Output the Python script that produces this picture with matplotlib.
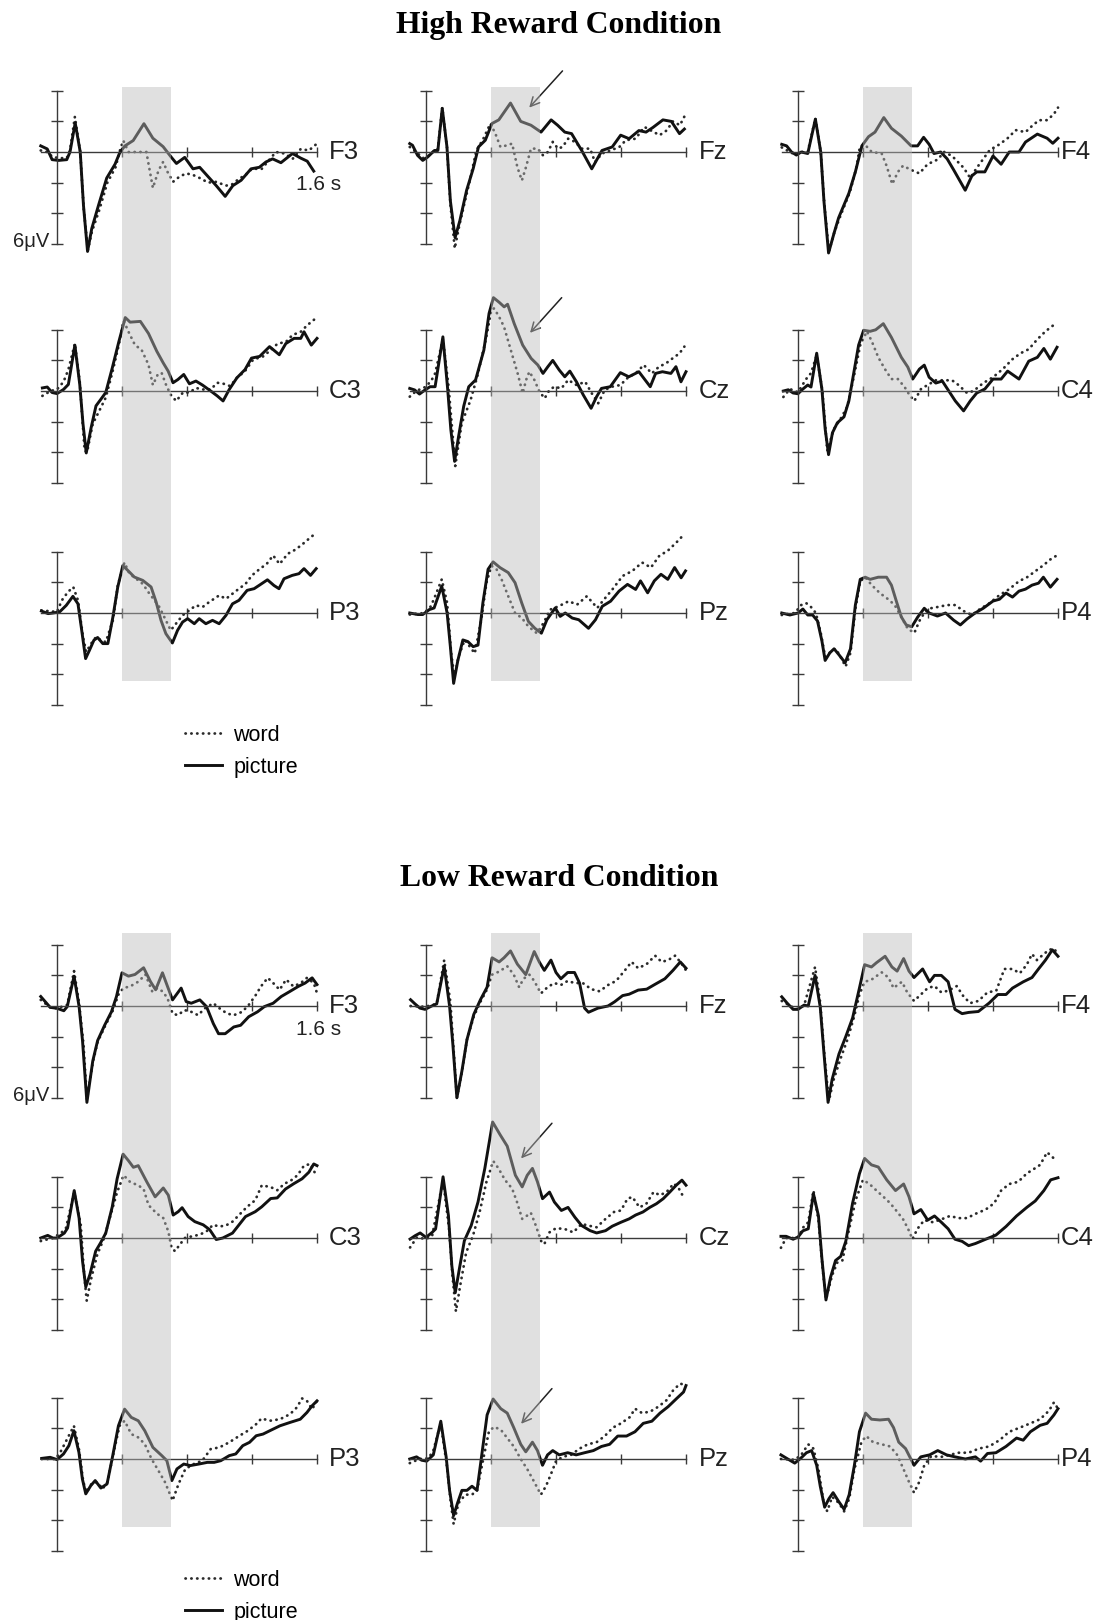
import matplotlib
matplotlib.use('Agg')
import matplotlib.pyplot as plt

plt.rcParams['font.family'] = ['Liberation Sans', 'DejaVu Sans']

W, H, DPI = 1108, 1620, 100

# ---------------- chart constants ----------------
conditions = ['High Reward Condition', 'Low Reward Condition']
channels = [['F3', 'Fz', 'F4'], ['C3', 'Cz', 'C4'], ['P3', 'Pz', 'P4']]
legend_labels = ['word', 'picture']
XTICKS = [0.4, 0.8, 1.2, 1.6]
YTICKS = [-6, -4, -2, 2, 4]
T_START, T_END = -0.1, 1.6
SHADE = (0.4, 0.7)

# ---------------- data: (time s, amplitude uV) ----------------
hi_F3_pic = [(-0.1,0.4),(-0.06,0.2),(-0.03,-0.5),(0.01,-0.55),(0.06,-0.5),(0.08,0.0),(0.112,1.9),(0.143,0.0),(0.163,-3.5),(0.188,-6.5),(0.214,-5.0),(0.255,-3.5),(0.306,-1.7),(0.357,-0.8),(0.388,0.0),(0.418,0.4),(0.469,0.75),(0.535,1.85),(0.59,0.9),(0.653,0.35),(0.704,-0.35),(0.735,-0.75),(0.786,-0.35),(0.837,-1.1),(0.878,-1.0),(0.929,-1.6),(0.98,-2.2),(1.035,-2.9),(1.082,-2.2),(1.133,-1.85),(1.194,-1.1),(1.245,-1.0),(1.286,-0.65),(1.327,-0.45),(1.378,-0.7),(1.449,-0.1),(1.5,-0.4),(1.54,-0.6),(1.58,-1.25)]
hi_F3_word = [(-0.1,0.1),(-0.06,0.0),(-0.03,-0.3),(0.01,-0.4),(0.06,-0.4),(0.08,0.1),(0.11,2.3),(0.143,0.0),(0.165,-3.8),(0.19,-6.4),(0.215,-5.2),(0.26,-3.8),(0.31,-2.0),(0.36,-1.0),(0.39,0.2),(0.408,0.75),(0.44,0.0),(0.5,0.0),(0.55,0.0),(0.59,-2.35),(0.625,-1.2),(0.653,-0.65),(0.68,-1.3),(0.714,-1.95),(0.755,-1.6),(0.796,-1.4),(0.837,-1.5),(0.878,-1.7),(0.93,-2.0),(0.98,-1.95),(1.04,-2.2),(1.08,-2.1),(1.12,-1.75),(1.16,-1.5),(1.2,-1.1),(1.26,-1.1),(1.347,0.0),(1.4,-0.1),(1.45,-0.45),(1.5,0.2),(1.55,0.1),(1.6,0.55)]

hi_Fz_pic = [(-0.1,0.55),(-0.083,0.44),(-0.052,-0.22),(-0.02,-0.55),(0.01,-0.33),(0.052,0.1),(0.073,0.1),(0.1,2.85),(0.129,0.33),(0.15,-3.2),(0.179,-5.6),(0.208,-4.5),(0.25,-2.5),(0.29,-1.1),(0.323,0.33),(0.365,0.77),(0.406,1.86),(0.448,2.1),(0.52,3.2),(0.583,2.0),(0.646,1.75),(0.708,1.3),(0.77,2.1),(0.81,1.75),(0.854,1.3),(0.896,1.2),(0.958,0.1),(1.02,-1.1),(1.083,0.1),(1.146,0.33),(1.198,1.1),(1.25,0.87),(1.31,1.4),(1.354,1.3),(1.396,1.6),(1.458,2.1),(1.51,2.0),(1.56,1.2),(1.59,1.5)]
hi_Fz_word = [(-0.1,0.33),(-0.05,-0.1),(-0.02,-0.4),(0.01,-0.3),(0.052,0.1),(0.073,0.2),(0.1,2.9),(0.129,0.3),(0.15,-3.4),(0.177,-6.3),(0.205,-4.8),(0.24,-3.2),(0.27,-1.85),(0.31,0.1),(0.35,0.8),(0.396,1.86),(0.427,1.2),(0.458,0.33),(0.5,0.44),(0.53,0.55),(0.5625,-1.0),(0.59,-1.86),(0.615,-1.0),(0.646,0.22),(0.6875,0.22),(0.72,-0.22),(0.75,0.0),(0.78,0.66),(0.8125,0.22),(0.84,0.33),(0.875,0.87),(0.917,0.66),(0.958,0.22),(1.01,0.22),(1.04,-0.66),(1.083,-0.1),(1.135,0.1),(1.19,0.33),(1.23,0.77),(1.29,0.87),(1.344,1.64),(1.385,1.4),(1.4375,1.1),(1.48,1.4),(1.52,2.0),(1.5625,1.75),(1.594,2.4)]

hi_F4_pic = [(-0.1,0.5),(-0.07,0.4),(-0.04,0.0),(-0.01,-0.2),(0.02,0.0),(0.06,-0.1),(0.107,2.15),(0.14,0.0),(0.16,-3.25),(0.188,-6.6),(0.222,-5.3),(0.25,-4.3),(0.313,-2.7),(0.353,-1.3),(0.393,0.4),(0.434,1.0),(0.474,1.3),(0.528,2.25),(0.575,1.55),(0.636,1.04),(0.696,0.4),(0.736,0.4),(0.773,0.96),(0.807,0.5),(0.837,-0.1),(0.878,0.0),(0.918,-0.45),(0.958,-1.17),(1.029,-2.5),(1.07,-1.56),(1.1,-1.3),(1.15,-1.3),(1.2,-0.26),(1.25,-0.8),(1.3,0.0),(1.36,0.0),(1.4,0.65),(1.473,1.17),(1.533,0.9),(1.568,0.57),(1.6,0.9)]
hi_F4_word = [(-0.1,0.3),(-0.05,0.0),(-0.01,-0.2),(0.02,0.0),(0.06,0.0),(0.107,2.2),(0.14,0.0),(0.162,-3.4),(0.19,-6.5),(0.225,-5.2),(0.26,-4.2),(0.32,-2.6),(0.36,-1.0),(0.38,0.3),(0.41,0.5),(0.454,0.0),(0.515,-0.1),(0.545,-0.9),(0.58,-2.1),(0.615,-1.3),(0.646,-0.9),(0.696,-1.17),(0.747,-1.4),(0.797,-0.8),(0.858,-0.5),(0.9,0.0),(0.948,-0.26),(1.02,-1.04),(1.06,-1.7),(1.1,-1.04),(1.18,0.13),(1.24,0.5),(1.29,0.9),(1.34,1.43),(1.4,1.3),(1.44,1.7),(1.483,2.08),(1.533,2.08),(1.574,2.47),(1.6,2.9)]

hi_C3_pic = [(-0.09,0.2),(-0.06,0.26),(-0.03,-0.1),(0.0,-0.17),(0.04,0.1),(0.07,0.43),(0.11,3.0),(0.14,0.43),(0.16,-2.15),(0.18,-4.05),(0.21,-2.4),(0.24,-0.97),(0.27,-0.54),(0.3,-0.1),(0.34,1.5),(0.38,3.2),(0.42,4.8),(0.45,4.5),(0.513,4.55),(0.563,3.76),(0.614,2.6),(0.654,1.83),(0.684,1.3),(0.714,0.54),(0.744,0.75),(0.78,1.08),(0.815,0.47),(0.855,0.65),(0.895,0.39),(0.946,0.0),(0.986,-0.32),(1.022,-0.65),(1.06,0.1),(1.107,0.86),(1.157,1.4),(1.197,2.15),(1.247,2.26),(1.308,2.9),(1.368,2.37),(1.408,3.1),(1.459,3.44),(1.5,3.44),(1.52,3.87),(1.565,3.0),(1.6,3.44)]
hi_C3_word = [(-0.09,-0.32),(-0.04,0.0),(0.0,0.1),(0.04,0.6),(0.07,1.4),(0.11,3.1),(0.14,0.6),(0.17,-3.9),(0.185,-4.0),(0.22,-2.15),(0.26,-1.3),(0.3,-0.43),(0.34,1.18),(0.38,3.0),(0.41,4.6),(0.44,3.87),(0.48,3.0),(0.52,2.7),(0.563,1.72),(0.59,0.39),(0.62,1.08),(0.644,1.18),(0.674,0.32),(0.704,-0.32),(0.734,-0.65),(0.775,-0.1),(0.815,-0.1),(0.855,0.2),(0.895,0.1),(0.946,0.1),(0.986,0.54),(1.026,0.47),(1.066,0.32),(1.107,0.86),(1.157,1.3),(1.207,2.05),(1.268,2.26),(1.318,2.7),(1.358,3.1),(1.408,3.2),(1.449,3.66),(1.5,3.87),(1.54,4.3),(1.59,4.73)]

hi_Cz_pic = [(-0.1,0.17),(-0.07,0.07),(-0.04,-0.2),(-0.006,0.07),(0.025,0.28),(0.056,0.28),(0.104,3.54),(0.133,0.17),(0.153,-2.54),(0.176,-4.6),(0.2,-3.0),(0.232,-1.0),(0.263,0.28),(0.305,0.72),(0.356,2.67),(0.388,5.07),(0.415,6.1),(0.45,5.8),(0.481,5.5),(0.502,5.67),(0.543,4.4),(0.595,3.0),(0.647,2.13),(0.688,1.7),(0.72,1.15),(0.75,1.59),(0.78,2.0),(0.82,1.37),(0.854,0.93),(0.885,1.3),(0.926,0.6),(0.968,-0.26),(1.016,-1.13),(1.05,-0.37),(1.08,0.17),(1.134,0.28),(1.196,1.2),(1.248,0.93),(1.31,1.26),(1.38,0.28),(1.413,1.15),(1.455,1.26),(1.507,1.15),(1.538,1.59),(1.569,0.6),(1.6,1.26)]
hi_Cz_word = [(-0.1,-0.37),(-0.06,0.0),(0.0,0.28),(0.035,0.72),(0.056,1.15),(0.104,3.4),(0.139,0.28),(0.18,-4.9),(0.22,-2.1),(0.274,-0.6),(0.315,0.93),(0.367,3.3),(0.402,5.3),(0.419,5.4),(0.45,4.85),(0.48,4.2),(0.522,2.67),(0.564,1.15),(0.595,-0.15),(0.616,0.72),(0.636,1.26),(0.667,0.72),(0.698,-0.04),(0.73,-0.48),(0.76,0.07),(0.79,0.28),(0.833,0.17),(0.875,0.72),(0.926,0.39),(0.98,0.6),(1.02,-0.15),(1.06,-0.8),(1.1,0.07),(1.144,0.28),(1.196,0.39),(1.248,0.93),(1.29,1.15),(1.34,1.7),(1.39,1.15),(1.434,1.59),(1.476,1.8),(1.517,2.13),(1.56,2.46),(1.59,2.9)]

hi_C4_pic = [(-0.09,0.0),(-0.06,0.08),(-0.03,-0.13),(0.0,-0.18),(0.03,0.13),(0.06,0.39),(0.08,0.26),(0.115,2.47),(0.147,0.13),(0.167,-2.47),(0.188,-4.16),(0.212,-2.73),(0.242,-2.08),(0.283,-1.69),(0.313,-0.65),(0.343,1.17),(0.373,3.0),(0.404,3.97),(0.444,3.9),(0.478,4.0),(0.525,4.4),(0.575,3.5),(0.636,2.2),(0.676,1.56),(0.706,0.78),(0.747,1.43),(0.777,1.69),(0.807,0.9),(0.848,0.52),(0.888,0.65),(0.928,0.0),(0.968,-0.65),(1.019,-1.3),(1.06,-0.65),(1.1,-0.13),(1.15,0.13),(1.2,0.78),(1.25,0.78),(1.29,1.3),(1.36,0.78),(1.42,1.95),(1.473,2.2),(1.513,2.78),(1.553,2.08),(1.594,2.86)]
hi_C4_word = [(-0.09,-0.39),(-0.05,0.13),(0.0,-0.08),(0.05,0.78),(0.08,1.17),(0.115,2.34),(0.15,0.0),(0.18,-3.9),(0.222,-2.47),(0.262,-1.82),(0.303,-1.04),(0.343,0.9),(0.383,3.0),(0.424,3.9),(0.454,3.25),(0.494,2.2),(0.535,1.43),(0.575,0.78),(0.615,0.78),(0.656,0.26),(0.686,-0.26),(0.716,-0.65),(0.757,0.13),(0.797,0.39),(0.848,0.7),(0.898,0.7),(0.948,0.7),(0.988,0.39),(1.04,-0.13),(1.08,0.0),(1.14,0.52),(1.2,0.9),(1.26,1.43),(1.32,2.08),(1.37,2.47),(1.42,2.73),(1.473,3.38),(1.523,3.9),(1.584,4.4)]

hi_P3_pic = [(-0.096,0.13),(-0.055,-0.04),(-0.025,0.0),(0.016,0.07),(0.057,0.5),(0.098,1.09),(0.129,0.6),(0.149,-0.9),(0.176,-2.98),(0.2,-2.43),(0.227,-1.78),(0.25,-1.6),(0.282,-2.0),(0.313,-2.0),(0.344,-0.26),(0.374,1.7),(0.405,3.1),(0.436,2.78),(0.476,2.35),(0.528,2.13),(0.579,1.7),(0.61,0.72),(0.64,-0.48),(0.67,-1.35),(0.71,-1.96),(0.742,-1.13),(0.773,-0.59),(0.804,-0.37),(0.845,-0.7),(0.875,-0.37),(0.916,-0.7),(0.957,-0.48),(0.998,-0.7),(1.04,-0.15),(1.08,0.6),(1.12,0.83),(1.17,1.48),(1.213,1.59),(1.243,1.8),(1.295,2.17),(1.335,1.8),(1.366,1.59),(1.397,2.24),(1.448,2.46),(1.489,2.57),(1.52,2.9),(1.56,2.46),(1.595,2.9)]
hi_P3_word = [(-0.096,0.17),(0.0,0.07),(0.03,0.83),(0.067,1.37),(0.1,1.7),(0.129,0.83),(0.16,-1.57),(0.18,-2.54),(0.21,-2.0),(0.24,-1.57),(0.27,-1.78),(0.3,-1.9),(0.344,-0.48),(0.374,1.8),(0.415,3.3),(0.446,2.57),(0.487,2.24),(0.528,1.9),(0.569,1.26),(0.6,0.83),(0.63,0.39),(0.67,-0.48),(0.7,-1.13),(0.732,-0.7),(0.773,-0.15),(0.814,0.17),(0.855,0.5),(0.896,0.39),(0.937,0.72),(0.998,1.15),(1.04,0.93),(1.08,1.26),(1.12,1.59),(1.16,1.9),(1.2,2.46),(1.25,2.9),(1.29,3.2),(1.33,3.76),(1.37,3.2),(1.42,3.87),(1.46,4.1),(1.5,4.4),(1.55,4.85),(1.587,5.17)]

hi_Pz_pic = [(-0.1,0.0),(-0.05,-0.1),(-0.02,-0.1),(0.02,0.22),(0.05,0.33),(0.097,1.76),(0.13,0.0),(0.15,-2.2),(0.17,-4.6),(0.196,-3.1),(0.227,-1.76),(0.258,-1.87),(0.29,-2.2),(0.32,-2.1),(0.35,0.66),(0.382,2.86),(0.413,3.34),(0.455,2.97),(0.506,2.64),(0.548,1.98),(0.589,0.66),(0.63,-0.55),(0.67,-1.0),(0.71,-1.32),(0.744,-0.44),(0.795,0.33),(0.826,-0.22),(0.857,0.0),(0.9,-0.33),(0.94,-0.44),(1.0,-1.0),(1.043,-0.44),(1.085,0.44),(1.136,0.77),(1.188,1.43),(1.24,1.87),(1.29,1.54),(1.32,2.1),(1.364,1.32),(1.405,2.1),(1.446,2.53),(1.488,2.2),(1.53,2.97),(1.57,2.3),(1.597,2.75)]
hi_Pz_word = [(-0.1,-0.1),(-0.01,0.0),(0.03,0.44),(0.06,1.2),(0.097,2.2),(0.13,0.66),(0.155,-2.64),(0.175,-4.2),(0.2,-2.86),(0.238,-1.76),(0.27,-2.2),(0.3,-2.64),(0.34,-0.44),(0.372,1.98),(0.403,3.08),(0.434,2.86),(0.465,2.2),(0.506,1.1),(0.548,0.0),(0.59,-0.33),(0.63,-0.88),(0.682,-1.32),(0.723,-0.66),(0.764,0.22),(0.816,0.44),(0.878,0.77),(0.93,0.55),(0.99,1.1),(1.054,0.33),(1.095,0.88),(1.147,1.54),(1.21,2.42),(1.27,2.75),(1.33,3.3),(1.384,2.97),(1.436,3.74),(1.488,4.07),(1.54,4.6),(1.59,5.16)]

hi_P4_pic = [(-0.1,0.0),(-0.05,-0.13),(0.0,0.0),(0.03,0.26),(0.06,-0.13),(0.09,-0.13),(0.12,-0.52),(0.147,-1.82),(0.167,-3.1),(0.196,-2.6),(0.222,-2.34),(0.252,-2.73),(0.29,-3.25),(0.323,-2.34),(0.353,0.52),(0.383,2.2),(0.414,2.34),(0.444,2.2),(0.494,2.34),(0.545,2.34),(0.575,1.82),(0.605,0.78),(0.636,-0.26),(0.666,-0.78),(0.7,-0.9),(0.737,-0.26),(0.777,0.31),(0.807,0.0),(0.858,-0.2),(0.908,0.0),(0.958,-0.47),(0.999,-0.78),(1.04,-0.39),(1.09,0.0),(1.14,0.31),(1.2,0.78),(1.24,0.9),(1.28,1.3),(1.32,1.04),(1.36,1.43),(1.4,1.56),(1.44,1.82),(1.48,1.95),(1.51,2.34),(1.553,1.69),(1.594,2.2)]
hi_P4_word = [(-0.1,-0.13),(-0.02,0.0),(0.02,0.52),(0.05,0.65),(0.08,0.39),(0.11,0.0),(0.14,-1.3),(0.167,-2.86),(0.196,-2.6),(0.232,-2.34),(0.262,-2.86),(0.293,-3.5),(0.323,-2.6),(0.353,0.26),(0.383,2.08),(0.414,2.34),(0.454,1.82),(0.504,1.3),(0.555,0.9),(0.595,0.52),(0.636,-0.26),(0.676,-1.04),(0.716,-1.3),(0.747,-0.52),(0.777,0.0),(0.817,0.31),(0.858,0.39),(0.918,0.52),(0.968,0.52),(1.019,0.13),(1.07,-0.13),(1.12,0.26),(1.18,0.65),(1.24,1.17),(1.3,1.56),(1.36,2.08),(1.41,2.34),(1.46,2.73),(1.51,3.12),(1.553,3.5),(1.594,3.77)]

lo_F3_pic = [(-0.1,0.62),(-0.073,0.29),(-0.042,-0.09),(0.0,-0.15),(0.042,-0.31),(0.063,-0.04),(0.105,1.95),(0.136,-0.04),(0.157,-2.26),(0.184,-6.3),(0.22,-3.6),(0.25,-2.26),(0.293,-1.26),(0.335,-0.38),(0.366,0.62),(0.4,2.17),(0.44,1.95),(0.48,2.06),(0.533,2.5),(0.575,1.6),(0.607,1.06),(0.649,2.17),(0.68,1.28),(0.711,0.4),(0.764,1.17),(0.795,0.29),(0.826,0.18),(0.879,0.4),(0.92,-0.04),(0.962,-1.15),(0.994,-1.81),(1.035,-1.81),(1.088,-1.37),(1.13,-1.26),(1.18,-0.7),(1.234,-0.38),(1.276,-0.04),(1.33,0.18),(1.38,0.62),(1.433,0.95),(1.485,1.28),(1.527,1.5),(1.57,1.84),(1.6,1.4)]
lo_F3_word = [(-0.1,0.4),(-0.04,-0.1),(0.0,-0.15),(0.063,0.07),(0.105,2.28),(0.136,0.18),(0.163,-2.5),(0.184,-6.1),(0.22,-3.7),(0.25,-2.35),(0.293,-1.37),(0.345,-0.27),(0.377,0.73),(0.408,1.17),(0.45,1.28),(0.502,1.6),(0.544,2.06),(0.586,0.95),(0.617,1.17),(0.65,0.95),(0.68,0.51),(0.711,-0.49),(0.743,-0.6),(0.785,-0.27),(0.826,-0.38),(0.868,-0.6),(0.91,-0.15),(0.962,0.18),(1.0,-0.15),(1.046,-0.49),(1.088,-0.6),(1.14,-0.38),(1.18,0.07),(1.224,0.73),(1.255,1.28),(1.297,1.84),(1.34,1.4),(1.37,1.06),(1.41,1.73),(1.455,1.28),(1.5,1.5),(1.538,1.84),(1.58,1.5),(1.6,0.84)]

lo_Fz_pic = [(-0.095,0.41),(-0.068,0.14),(-0.037,-0.14),(-0.006,-0.22),(0.035,0.0),(0.066,0.14),(0.112,2.6),(0.145,0.0),(0.165,-2.47),(0.19,-6.0),(0.221,-4.25),(0.252,-2.2),(0.294,-0.55),(0.335,0.41),(0.376,1.23),(0.407,3.15),(0.45,2.88),(0.48,3.15),(0.52,3.6),(0.562,2.74),(0.614,2.05),(0.666,3.56),(0.697,2.88),(0.728,2.33),(0.769,3.0),(0.8,2.19),(0.83,1.78),(0.872,2.19),(0.914,2.19),(0.945,1.5),(0.976,-0.14),(1.0,-0.41),(1.058,-0.14),(1.12,0.0),(1.16,0.27),(1.21,0.68),(1.25,0.77),(1.306,1.04),(1.358,1.1),(1.41,1.42),(1.47,1.78),(1.52,2.33),(1.565,2.88),(1.6,2.47)]
lo_Fz_word = [(-0.095,0.0),(-0.006,-0.05),(0.066,0.14),(0.112,3.0),(0.15,0.27),(0.19,-6.0),(0.221,-4.3),(0.252,-2.2),(0.294,-0.68),(0.335,0.27),(0.376,1.1),(0.407,2.05),(0.45,2.25),(0.5,2.6),(0.54,2.05),(0.573,1.23),(0.6,1.78),(0.636,2.05),(0.666,1.64),(0.707,0.82),(0.748,1.23),(0.79,1.5),(0.83,1.37),(0.872,1.64),(0.914,1.5),(0.965,1.5),(1.017,1.1),(1.068,0.96),(1.12,1.37),(1.17,1.64),(1.224,2.33),(1.265,2.88),(1.306,2.47),(1.358,2.74),(1.41,3.29),(1.45,2.88),(1.49,3.0),(1.533,3.29),(1.575,2.74),(1.6,2.33)]

lo_F4_pic = [(-0.1,0.6),(-0.067,0.19),(-0.03,-0.22),(0.0,-0.22),(0.038,0.06),(0.063,0.0),(0.105,2.0),(0.137,-0.08),(0.158,-2.86),(0.185,-6.3),(0.21,-4.8),(0.252,-3.14),(0.294,-2.0),(0.336,-0.78),(0.378,1.17),(0.41,2.7),(0.452,2.55),(0.483,2.83),(0.536,3.25),(0.578,2.55),(0.61,2.28),(0.65,3.1),(0.683,2.28),(0.714,1.86),(0.767,2.42),(0.81,1.58),(0.84,2.0),(0.882,2.0),(0.924,1.58),(0.966,-0.22),(1.01,-0.5),(1.05,-0.42),(1.11,-0.36),(1.176,0.19),(1.23,0.75),(1.28,0.75),(1.32,1.17),(1.386,1.58),(1.44,1.86),(1.48,2.42),(1.523,3.0),(1.565,3.67),(1.6,3.25)]
lo_F4_word = [(-0.1,0.33),(-0.03,-0.1),(0.0,-0.2),(0.038,0.06),(0.105,2.55),(0.137,0.19),(0.164,-3.4),(0.19,-6.2),(0.22,-4.8),(0.263,-3.4),(0.305,-2.17),(0.347,-0.64),(0.378,0.75),(0.41,1.58),(0.452,1.72),(0.515,2.2),(0.557,1.86),(0.588,1.17),(0.62,1.44),(0.64,1.58),(0.672,0.89),(0.714,0.33),(0.756,0.75),(0.798,1.17),(0.84,1.3),(0.882,0.89),(0.924,1.0),(0.977,1.3),(1.02,0.6),(1.06,0.19),(1.11,0.33),(1.166,0.89),(1.22,1.0),(1.27,2.42),(1.32,2.42),(1.365,2.14),(1.408,2.7),(1.44,3.4),(1.47,3.0),(1.513,3.4),(1.545,3.67),(1.575,3.75),(1.6,3.4)]

lo_C3_pic = [(-0.1,0.0),(-0.057,0.17),(-0.026,0.0),(0.0,0.0),(0.045,0.32),(0.065,0.65),(0.106,3.1),(0.136,1.3),(0.157,-1.5),(0.177,-3.2),(0.203,-2.37),(0.238,-0.86),(0.268,-0.32),(0.3,0.32),(0.34,2.04),(0.37,3.87),(0.407,5.48),(0.44,5.05),(0.47,4.62),(0.5,4.73),(0.553,3.66),(0.604,2.69),(0.654,3.27),(0.685,2.8),(0.715,1.5),(0.746,1.72),(0.77,1.98),(0.807,1.4),(0.848,1.07),(0.9,0.86),(0.94,0.54),(0.98,-0.1),(1.02,0.0),(1.08,0.32),(1.12,0.86),(1.16,1.4),(1.22,1.72),(1.26,2.04),(1.315,2.58),(1.355,2.62),(1.406,3.2),(1.457,3.55),(1.508,3.87),(1.55,4.3),(1.58,4.84),(1.6,4.73)]
lo_C3_word = [(-0.1,-0.2),(-0.026,0.0),(0.024,0.32),(0.055,0.65),(0.106,3.0),(0.146,0.86),(0.167,-2.37),(0.183,-4.1),(0.207,-2.8),(0.248,-1.07),(0.29,0.0),(0.33,1.5),(0.37,3.0),(0.41,4.1),(0.45,3.66),(0.5,3.44),(0.533,3.2),(0.563,2.15),(0.614,1.6),(0.654,1.3),(0.685,0.43),(0.705,-0.65),(0.726,-0.86),(0.756,-0.43),(0.787,0.0),(0.827,0.1),(0.878,0.22),(0.92,0.43),(0.96,0.86),(1.0,0.75),(1.04,0.82),(1.08,1.07),(1.12,1.5),(1.17,2.04),(1.22,2.47),(1.26,3.44),(1.315,3.33),(1.355,3.12),(1.4,3.55),(1.44,3.76),(1.48,4.1),(1.52,4.73),(1.56,4.84),(1.6,3.98)]

lo_Cz_pic = [(-0.098,-0.07),(-0.067,0.15),(-0.036,0.33),(0.0,0.04),(0.038,0.37),(0.059,0.59),(0.105,4.0),(0.138,1.47),(0.159,-1.82),(0.18,-3.58),(0.205,-2.04),(0.236,-0.18),(0.278,0.81),(0.32,2.35),(0.362,4.55),(0.41,7.58),(0.456,6.75),(0.5,6.0),(0.55,4.1),(0.592,3.34),(0.623,4.1),(0.655,4.55),(0.686,3.67),(0.717,2.57),(0.76,3.0),(0.79,2.35),(0.833,1.8),(0.874,2.0),(0.916,1.36),(0.958,0.81),(1.01,0.48),(1.05,0.33),(1.105,0.48),(1.146,0.77),(1.2,1.03),(1.25,1.25),(1.29,1.5),(1.335,1.7),(1.377,2.0),(1.418,2.24),(1.46,2.57),(1.5,3.0),(1.54,3.45),(1.575,3.78),(1.6,3.45)]
lo_Cz_word = [(-0.098,-0.62),(-0.056,0.04),(0.0,-0.07),(0.038,0.15),(0.105,3.78),(0.142,0.59),(0.163,-2.48),(0.184,-4.8),(0.21,-3.14),(0.247,-0.95),(0.289,0.15),(0.33,1.7),(0.372,3.67),(0.414,5.03),(0.446,4.55),(0.487,3.78),(0.53,3.23),(0.56,2.35),(0.592,1.25),(0.623,1.47),(0.645,1.65),(0.676,0.81),(0.707,-0.18),(0.728,-0.4),(0.76,0.37),(0.8,0.64),(0.853,0.59),(0.906,0.37),(0.958,0.92),(1.0,0.81),(1.05,0.7),(1.105,1.25),(1.157,1.7),(1.2,1.8),(1.24,2.57),(1.27,2.68),(1.314,2.0),(1.356,2.24),(1.4,3.0),(1.44,2.8),(1.48,3.0),(1.525,3.56),(1.556,3.23),(1.59,2.57)]

lo_C4_pic = [(-0.105,0.11),(-0.073,0.11),(-0.03,-0.08),(0.0,0.06),(0.03,0.47),(0.063,0.6),(0.095,2.9),(0.126,1.44),(0.147,-1.33),(0.172,-4.05),(0.2,-2.58),(0.231,-1.47),(0.263,-1.2),(0.294,-0.22),(0.336,2.28),(0.378,4.2),(0.41,5.2),(0.452,4.78),(0.494,4.64),(0.546,3.8),(0.6,3.1),(0.65,3.53),(0.683,2.7),(0.714,1.58),(0.756,1.86),(0.798,1.17),(0.84,1.44),(0.882,1.03),(0.924,0.6),(0.966,-0.08),(1.01,-0.22),(1.05,-0.5),(1.092,-0.36),(1.155,-0.08),(1.218,0.19),(1.28,0.75),(1.345,1.44),(1.408,2.0),(1.46,2.42),(1.513,3.1),(1.555,3.8),(1.6,3.94)]
lo_C4_word = [(-0.105,-0.64),(-0.073,0.0),(0.0,0.0),(0.03,0.67),(0.063,1.03),(0.095,3.1),(0.126,1.17),(0.151,-1.9),(0.172,-4.0),(0.21,-2.44),(0.242,-1.6),(0.273,-1.47),(0.315,0.6),(0.357,2.55),(0.4,3.8),(0.44,3.53),(0.483,3.1),(0.525,2.7),(0.567,2.28),(0.61,1.72),(0.65,1.17),(0.683,0.47),(0.704,-0.08),(0.735,0.6),(0.777,1.17),(0.83,1.03),(0.882,1.22),(0.935,1.44),(0.987,1.3),(1.04,1.3),(1.092,1.58),(1.155,1.86),(1.208,2.28),(1.25,3.1),(1.3,3.53),(1.355,3.67),(1.408,4.22),(1.45,4.5),(1.49,4.78),(1.533,5.6),(1.575,5.2)]

lo_P3_pic = [(-0.094,0.04),(-0.042,0.11),(0.0,-0.04),(0.04,0.33),(0.073,0.87),(0.104,1.85),(0.135,0.43),(0.156,-1.3),(0.177,-2.28),(0.208,-1.74),(0.235,-1.41),(0.27,-1.9),(0.308,-1.63),(0.343,0.22),(0.378,2.17),(0.416,3.26),(0.457,2.72),(0.5,2.5),(0.54,1.85),(0.59,0.76),(0.645,0.22),(0.676,-0.11),(0.707,-1.41),(0.738,-0.65),(0.78,-0.33),(0.82,-0.43),(0.873,-0.33),(0.925,-0.22),(0.967,-0.22),(1.008,-0.11),(1.06,0.22),(1.1,0.33),(1.143,0.87),(1.185,1.09),(1.226,1.52),(1.268,1.63),(1.31,1.85),(1.372,2.17),(1.434,2.39),(1.497,2.6),(1.538,3.04),(1.57,3.48),(1.6,3.8)]
lo_P3_word = [(-0.094,0.0),(-0.01,0.0),(0.02,0.43),(0.062,1.3),(0.104,2.17),(0.135,0.65),(0.162,-1.52),(0.183,-2.17),(0.212,-1.63),(0.25,-1.52),(0.28,-1.96),(0.31,-1.52),(0.353,0.65),(0.385,2.17),(0.416,2.5),(0.457,1.63),(0.5,1.41),(0.54,0.98),(0.582,0.0),(0.624,-0.76),(0.665,-1.52),(0.711,-2.72),(0.748,-1.63),(0.79,-0.65),(0.842,-0.33),(0.894,-0.11),(0.946,0.65),(1.0,0.76),(1.06,1.09),(1.123,1.52),(1.175,1.85),(1.226,2.28),(1.258,2.65),(1.31,2.5),(1.372,2.6),(1.434,2.93),(1.476,3.37),(1.508,3.96),(1.538,3.8),(1.57,3.26),(1.6,3.8)]

lo_Pz_pic = [(-0.1,0.0),(-0.058,0.14),(-0.027,-0.08),(0.004,-0.14),(0.045,0.27),(0.091,2.47),(0.124,0.14),(0.145,-2.05),(0.17,-3.7),(0.194,-2.88),(0.221,-2.05),(0.252,-2.05),(0.283,-1.78),(0.314,-2.05),(0.345,0.41),(0.376,2.88),(0.413,3.92),(0.46,3.29),(0.5,3.0),(0.54,2.05),(0.583,0.96),(0.614,0.47),(0.655,1.1),(0.686,0.55),(0.717,-0.41),(0.748,0.27),(0.78,0.55),(0.82,0.27),(0.872,0.41),(0.924,0.27),(0.976,0.41),(1.03,0.55),(1.08,0.82),(1.13,0.96),(1.18,1.5),(1.234,1.5),(1.286,1.78),(1.337,2.33),(1.39,2.47),(1.44,3.0),(1.49,3.42),(1.544,3.97),(1.585,4.38),(1.6,4.8)]
lo_Pz_word = [(-0.1,-0.27),(-0.04,0.0),(0.015,0.05),(0.045,0.55),(0.091,2.33),(0.128,-0.41),(0.153,-2.88),(0.17,-4.25),(0.2,-2.88),(0.242,-2.33),(0.283,-2.33),(0.314,-2.05),(0.355,0.14),(0.387,1.78),(0.418,2.1),(0.46,1.92),(0.5,1.37),(0.54,0.82),(0.583,0.0),(0.624,-0.68),(0.666,-1.5),(0.707,-2.33),(0.738,-1.78),(0.77,-0.96),(0.8,-0.14),(0.841,0.14),(0.893,0.27),(0.945,0.68),(0.996,0.96),(1.05,1.1),(1.1,1.5),(1.15,2.05),(1.2,2.33),(1.255,2.74),(1.286,3.29),(1.33,3.0),(1.38,3.1),(1.43,3.42),(1.48,3.84),(1.523,4.52),(1.565,4.93),(1.6,4.8)]

lo_P4_pic = [(-0.105,0.27),(-0.063,0.0),(-0.02,-0.27),(0.02,0.08),(0.052,0.41),(0.084,0.55),(0.115,-0.41),(0.137,-1.78),(0.164,-3.15),(0.19,-2.6),(0.216,-2.2),(0.248,-2.74),(0.284,-3.29),(0.315,-2.33),(0.347,-0.41),(0.378,1.78),(0.416,3.0),(0.452,2.6),(0.504,2.55),(0.557,2.6),(0.588,2.05),(0.62,1.1),(0.662,0.68),(0.714,-0.41),(0.756,0.14),(0.81,0.27),(0.86,0.55),(0.914,0.27),(0.966,0.14),(1.03,0.0),(1.092,0.14),(1.124,-0.14),(1.166,0.36),(1.218,0.41),(1.28,0.82),(1.345,1.37),(1.386,1.23),(1.43,1.78),(1.49,2.2),(1.533,2.33),(1.575,2.88),(1.6,3.29)]
lo_P4_word = [(-0.105,0.0),(-0.02,-0.05),(0.02,0.27),(0.063,0.96),(0.095,0.68),(0.126,-0.68),(0.158,-2.88),(0.18,-3.42),(0.21,-2.47),(0.252,-2.88),(0.284,-3.42),(0.315,-2.6),(0.347,-0.68),(0.39,1.1),(0.42,1.5),(0.462,1.1),(0.515,0.96),(0.567,0.82),(0.61,0.27),(0.65,-0.68),(0.683,-1.5),(0.714,-2.2),(0.746,-1.5),(0.777,-0.41),(0.82,0.19),(0.882,0.14),(0.935,0.27),(0.987,0.41),(1.05,0.41),(1.113,0.68),(1.176,0.82),(1.24,1.23),(1.3,1.78),(1.365,2.05),(1.43,2.33),(1.49,2.6),(1.544,3.15),(1.575,3.7),(1.6,3.29)]

# lookup built from the named lists
series = {
    ('hi', 'F3'): (hi_F3_word, hi_F3_pic), ('hi', 'Fz'): (hi_Fz_word, hi_Fz_pic), ('hi', 'F4'): (hi_F4_word, hi_F4_pic),
    ('hi', 'C3'): (hi_C3_word, hi_C3_pic), ('hi', 'Cz'): (hi_Cz_word, hi_Cz_pic), ('hi', 'C4'): (hi_C4_word, hi_C4_pic),
    ('hi', 'P3'): (hi_P3_word, hi_P3_pic), ('hi', 'Pz'): (hi_Pz_word, hi_Pz_pic), ('hi', 'P4'): (hi_P4_word, hi_P4_pic),
    ('lo', 'F3'): (lo_F3_word, lo_F3_pic), ('lo', 'Fz'): (lo_Fz_word, lo_Fz_pic), ('lo', 'F4'): (lo_F4_word, lo_F4_pic),
    ('lo', 'C3'): (lo_C3_word, lo_C3_pic), ('lo', 'Cz'): (lo_Cz_word, lo_Cz_pic), ('lo', 'C4'): (lo_C4_word, lo_C4_pic),
    ('lo', 'P3'): (lo_P3_word, lo_P3_pic), ('lo', 'Pz'): (lo_Pz_word, lo_Pz_pic), ('lo', 'P4'): (lo_P4_word, lo_P4_pic),
}

# arrows marking the effect: (section, channel, tail(t,uV), head(t,uV))
arrows = [('hi', 'Fz', (0.84, 5.3), (0.635, 2.9)),
          ('hi', 'Cz', (0.835, 6.1), (0.64, 3.8)),
          ('lo', 'Cz', (0.775, 7.5), (0.585, 5.2)),
          ('lo', 'Pz', (0.775, 4.6), (0.585, 2.3))]

# ---------------- layout (pixels) ----------------
PPS, PPV = 162.5, 15.3          # pixels per second / per microvolt
XL, XR, YB, YT = -0.14, 1.66, -7.6, 8.6
col_x0 = [57, 426, 798]
row_y0 = {'hi': [152, 391, 613], 'lo': [1006, 1238, 1459]}
shade_px = {'hi': (87, 681), 'lo': (933, 1527)}
title_y = {'hi': 25, 'lo': 878}
legend_y = {'hi': 725, 'lo': 1570}
sec_s_y = {'hi': -2.1, 'lo': -1.55}
label_gap = [12, 13, 3]

fig = plt.figure(figsize=(W / DPI, H / DPI), dpi=DPI)

def rect(x0, top_px, bottom_px):
    left = (x0 + XL * PPS) / W
    width = (XR - XL) * PPS / W
    return [left, 1 - bottom_px / H, width, (bottom_px - top_px) / H]

AXC = '#3a3a3a'
handles = None
for sec, title in zip(['hi', 'lo'], conditions):
    fig.text(559 / W, 1 - title_y[sec] / H, title, ha='center', va='center',
             family=['Liberation Serif', 'DejaVu Serif'], weight='bold', fontsize=22.8)
    for r, row in enumerate(channels):
        for c, ch in enumerate(row):
            y0 = row_y0[sec][r]
            x0 = col_x0[c]
            ax = fig.add_axes(rect(x0, y0 - YT * PPV, y0 - YB * PPV))
            ax.set_xlim(XL, XR)
            ax.set_ylim(YB, YT)
            ax.patch.set_visible(False)
            for s in ['top', 'right']:
                ax.spines[s].set_visible(False)
            ax.spines['left'].set_position(('data', 0))
            ax.spines['bottom'].set_position(('data', 0))
            ax.spines['left'].set_bounds(YTICKS[0], YTICKS[-1])
            ax.spines['bottom'].set_bounds(T_START, T_END)
            for s in ['left', 'bottom']:
                ax.spines[s].set_color(AXC)
                ax.spines[s].set_linewidth(1.0)
            ax.set_xticks(XTICKS)
            ax.set_yticks(YTICKS)
            ax.tick_params(axis='x', direction='inout', length=7.5, width=1.0, color=AXC,
                           labelbottom=False)
            ax.tick_params(axis='y', direction='inout', length=8.5, width=1.0, color=AXC,
                           labelleft=False)
            word, pic = series[(sec, ch)]
            lw_, = ax.plot([p[0] for p in word], [p[1] for p in word], color='#2a2a2a',
                           lw=2.0, linestyle=(0, (0.1, 2.0)), dash_capstyle='round',
                           clip_on=False, label=legend_labels[0])
            lp_, = ax.plot([p[0] for p in pic], [p[1] for p in pic], color='#111111',
                           lw=2.1, solid_joinstyle='round', clip_on=False, label=legend_labels[1])
            if handles is None:
                handles = [lw_, lp_]
            ax.annotate(ch, xy=(T_END, 0), xytext=(label_gap[c] * 0.72, 0),
                        textcoords='offset points', ha='left', va='center', fontsize=18.5,
                        color='#222222', annotation_clip=False)
            if ch == 'F3':
                ax.text(T_END + 0.012, sec_s_y[sec], '1.6 s', ha='center', va='center',
                        fontsize=15, color='#222222')
                ax.text(-0.045, YTICKS[0] + 0.15, '6μV', ha='right', va='center',
                        fontsize=14.5, color='#222222')
            for a_sec, a_ch, tail, head in arrows:
                if a_sec == sec and a_ch == ch:
                    ax.annotate('', xy=head, xytext=tail, annotation_clip=False,
                                arrowprops=dict(arrowstyle='->', lw=1.1, color='#222222',
                                                mutation_scale=16, shrinkA=0, shrinkB=0))
    # shaded analysis window (drawn over the traces, semi-transparent)
    top, bot = shade_px[sec]
    for c in range(3):
        sax = fig.add_axes(rect(col_x0[c], top, bot))
        sax.set_xlim(XL, XR)
        sax.set_ylim(0, 1)
        sax.axis('off')
        sax.set_zorder(20)
        sax.axvspan(SHADE[0], SHADE[1], color='#bcbcbc', alpha=0.45, lw=0)
    fig.legend(handles, legend_labels, loc='upper left',
               bbox_to_anchor=(185 / W, 1 - legend_y[sec] / H), frameon=False,
               fontsize=15.5, handlelength=1.7, handletextpad=0.55, labelspacing=0.5,
               borderpad=0, borderaxespad=0)

fig.savefig('out.png', dpi=DPI)
